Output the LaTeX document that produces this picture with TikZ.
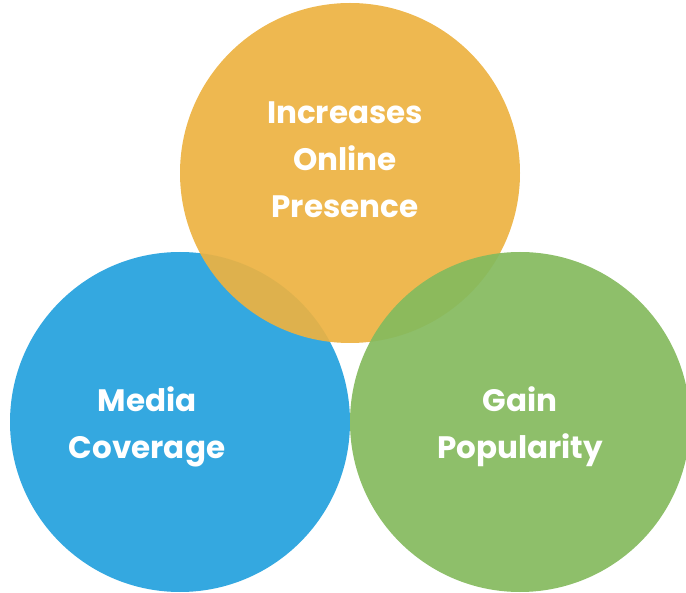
\documentclass[tikz,border=0pt]{standalone}
\usepackage{fontspec}
\setmainfont{Poppins}
\definecolor{ringorange}{RGB}{237,178,65}
\definecolor{ringblue}{RGB}{52,168,224}
\definecolor{ringgreen}{RGB}{132,186,93}
\begin{document}
\begin{tikzpicture}[x=1pt,y=-1pt,
	lbl/.style={text=white,align=center,inner sep=0pt,font=\bfseries\fontsize{31}{47}\selectfont}]
	\useasboundingbox (0,0) rectangle (686,593);
	% circles
	\fill[ringblue] (180,422) circle (170pt);
	\fill[ringorange,opacity=0.92] (350,173) circle (170pt);
	\fill[ringgreen,opacity=0.92] (520,422) circle (170pt);
	% labels
	\node[lbl] (online) at (345,160) {Increases\\Online\\Presence};
	\node[lbl] (media) at (147,427) {Media\\Coverage};
	\node[lbl] (gain) at (520,427) {Gain\\Popularity};
\end{tikzpicture}
\end{document}
